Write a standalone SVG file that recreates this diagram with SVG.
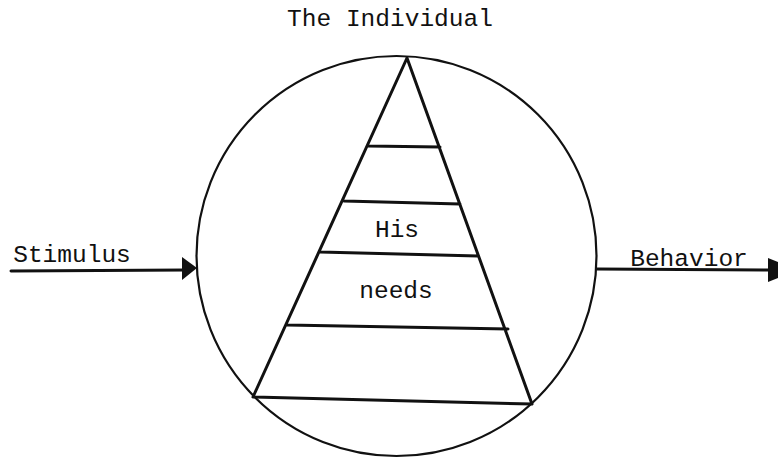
<svg xmlns="http://www.w3.org/2000/svg" width="778" height="458" viewBox="0 0 778 458">
<style>
text{font-family:"Liberation Mono","Courier New",monospace;font-size:24.5px;fill:#111;text-anchor:middle}
.ln{stroke:#111;stroke-width:3;fill:none;stroke-linecap:round}
</style>
<rect width="778" height="458" fill="#fff"/>
<g id="title"><text x="390" y="26">The Individual</text></g>
<g id="individual">
<circle cx="396.5" cy="256" r="200" fill="none" stroke="#111" stroke-width="2.2"/>
</g>
<g id="pyramid">
<path class="ln" d="M407,58 L253,397 M407,58 L532,404 M368,146 L440,147 M344,201 L460,204 M320,252 L478,256 M287,325 L508,329 M253,397 L532,404"/>
<text x="397" y="237">His</text>
<text x="396" y="298">needs</text>
</g>
<g id="stimulus"><text x="72" y="262">Stimulus</text></g>
<g id="behavior"><text x="689" y="266">Behavior</text></g>
<g id="connectors">
<path class="ln" d="M11,271 L186,270"/>
<polygon points="182,257 197,268 182,280" fill="#111"/>
<path class="ln" d="M597,269 L772,270"/>
<polygon points="768,258 778,262 778,278 768,282" fill="#111"/>
</g>
</svg>
